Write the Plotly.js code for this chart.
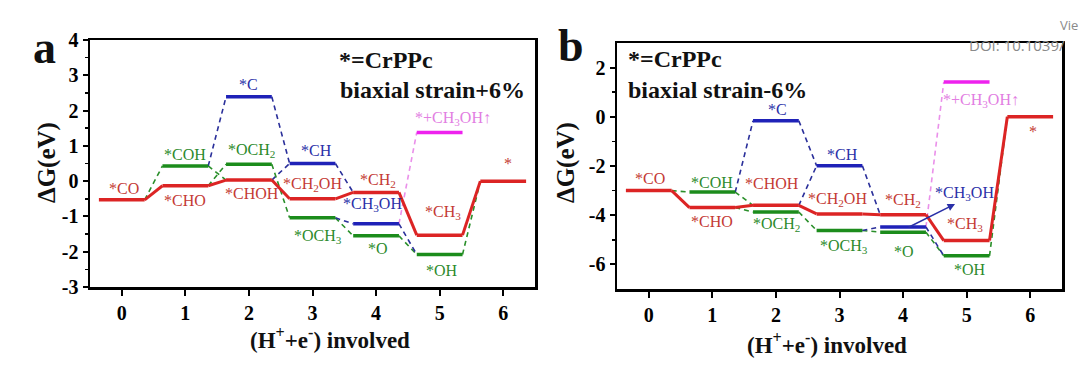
<!DOCTYPE html>
<html>
<head>
<meta charset="utf-8">
<script src="https://cdn.plot.ly/plotly-3.0.1.min.js"></script>
<style>html,body{margin:0;padding:0;background:#fff;}#chart{width:1080px;height:367px;}</style>
</head>
<body>
<div id="chart"></div>
<script>
// ---------- data ----------
const steps = [0, 1, 2, 3, 4, 5, 6];
const xTickText = ['0', '1', '2', '3', '4', '5', '6'];

// Panel a: biaxial strain +6%
const redA = [-0.53, -0.13, 0.03, -0.50, -0.32, -1.53, 0.00];
const greenStepsA = [1, 2, 3, 4, 5];
const greenA = [0.43, 0.48, -1.04, -1.55, -2.08];
const blueStepsA = [2, 3, 4];
const blueA = [2.39, 0.50, -1.21];
const magStepsA = [5];
const magA = [1.38];
const yTicksA = [-3, -2, -1, 0, 1, 2, 3, 4];
const yTickTextA = ['-3', '-2', '-1', '0', '1', '2', '3', '4'];

// Panel b: biaxial strain -6%
const redB = [-3.00, -3.69, -3.60, -3.95, -3.98, -5.03, 0.00];
const greenStepsB = [1, 2, 3, 4, 5];
const greenB = [-3.06, -3.87, -4.62, -4.69, -5.65];
const blueStepsB = [2, 3, 4];
const blueB = [-0.16, -1.99, -4.48];
const magStepsB = [5];
const magB = [1.41];
const yTicksB = [-6, -4, -2, 0, 2];
const yTickTextB = ['-6', '-4', '-2', '0', '2'];

// species labels
const redLabels = ['*CO', '*CHO', '*CHOH', '*CH<sub>2</sub>OH', '*CH<sub>2</sub>', '*CH<sub>3</sub>', '*'];
const greenLabels = ['*COH', '*OCH<sub>2</sub>', '*OCH<sub>3</sub>', '*O', '*OH'];
const blueLabels = ['*C', '*CH', '*CH<sub>3</sub>OH'];
const magLabels = ['*+CH<sub>3</sub>OH↑'];

const panelTitleA = ['*=CrPPc', 'biaxial strain+6%'];
const panelTitleB = ['*=CrPPc', 'biaxial strain-6%'];

// dashed connections: [fromSeries, fromIndex, toSeries, toIndex, colourSeries]
const links = [
  ['r', 0, 'g', 0, 'g'],
  ['g', 0, 'r', 2, 'g'],
  ['r', 1, 'g', 1, 'g'],
  ['g', 0, 'b', 0, 'b'],
  ['b', 0, 'b', 1, 'b'],
  ['r', 2, 'b', 1, 'b'],
  ['g', 1, 'g', 2, 'g'],
  ['b', 1, 'r', 4, 'b'],
  ['g', 2, 'g', 3, 'g'],
  ['g', 2, 'b', 2, 'b'],
  ['b', 2, 'm', 0, 'm'],
  ['g', 3, 'g', 4, 'g'],
  ['b', 2, 'g', 4, 'b'],
  ['g', 4, 'r', 6, 'g']
];

// ---------- style ----------
const HW = 0.36;
const barCol = {r: '#dc2424', g: '#1c8c1c', b: '#1f22b8', m: '#ee22ee'};
const dashCol = {r: '#dc2424', g: '#2a8f2a', b: '#2a2f9a', m: '#ea90ea'};
const txtCol = {r: '#c43a34', g: '#2c8a2c', b: '#2a30a8', m: '#e27ee2'};
const SERIF = '"Liberation Serif", serif';

// label pixel offsets [xshift, yshift] per panel
const offA = {
  r: [[2, 11], [0, -15], [3, -13], [0, 14], [2, 12], [3, 23], [5, 18]],
  g: [[0, 11], [3, 14], [5, -19], [2, -13], [2, -16]],
  b: [[0, 12], [4, 13], [-4, 19]],
  m: [[13, 14]]
};
const offB = {
  r: [[1, 12], [0, -14], [-4, 22], [-2, 14], [0, 14], [-2, 16], [3, -15]],
  g: [[0, 10], [1, -12], [4, -16], [1, -19], [3, -14]],
  b: [[2, 11], [3, 11], [61, 34]],
  m: [[14, -18]]
};

const traces = [];
const annotations = [];

function buildPanel(xa, ya, red, gS, gV, bS, bV, mS, mV, off) {
  const ser = {
    r: {s: steps, v: red, lab: redLabels},
    g: {s: gS, v: gV, lab: greenLabels},
    b: {s: bS, v: bV, lab: blueLabels},
    m: {s: mS, v: mV, lab: magLabels}
  };
  links.forEach(l => {
    const f = ser[l[0]], t = ser[l[2]];
    traces.push({
      x: [f.s[l[1]] + HW, t.s[l[3]] - HW],
      y: [f.v[l[1]], t.v[l[3]]],
      xaxis: xa, yaxis: ya, mode: 'lines', hoverinfo: 'skip',
      line: {color: dashCol[l[4]], width: 1.6, dash: '5px,4px'}
    });
  });
  for (let i = 0; i < steps.length - 1; i++) {
    traces.push({
      x: [steps[i] + HW, steps[i + 1] - HW],
      y: [red[i], red[i + 1]],
      xaxis: xa, yaxis: ya, mode: 'lines', hoverinfo: 'skip',
      line: {color: barCol.r, width: 3}
    });
  }
  ['g', 'b', 'm', 'r'].forEach(k => {
    const S = ser[k];
    S.s.forEach((s, i) => {
      traces.push({
        x: [s - HW, s + HW], y: [S.v[i], S.v[i]],
        xaxis: xa, yaxis: ya, mode: 'lines', hoverinfo: 'skip',
        line: {color: barCol[k], width: 3.5}
      });
      annotations.push({
        x: s, y: S.v[i], xref: xa, yref: ya, text: S.lab[i], showarrow: false,
        xanchor: 'center', yanchor: 'middle',
        xshift: off[k][i][0], yshift: off[k][i][1],
        font: {family: SERIF, size: 16, color: txtCol[k]}
      });
    });
  });
}

buildPanel('x', 'y', redA, greenStepsA, greenA, blueStepsA, blueA, magStepsA, magA, offA);
buildPanel('x2', 'y2', redB, greenStepsB, greenB, blueStepsB, blueB, magStepsB, magB, offB);

// arrow to *CH3OH label in panel b
annotations.push({
  x: blueStepsB[2], y: blueB[2], xref: 'x2', yref: 'y2', text: '',
  xshift: 52, yshift: 23, ax: -48, ay: 24, showarrow: true,
  arrowhead: 2, arrowsize: 1, arrowwidth: 1.5, arrowcolor: '#2a30a8'
});

const W = 1080, H = 367;
const px = v => v / W, py = v => 1 - v / H;
function txt(x, y, text, size, opts) {
  annotations.push(Object.assign({
    xref: 'paper', yref: 'paper', x: px(x), y: py(y), text: text, showarrow: false,
    xanchor: 'center', yanchor: 'middle',
    font: {family: SERIF, size: size, color: '#111', weight: 'bold'}
  }, opts || {}));
}
txt(337, 60, panelTitleA[0], 24, {xanchor: 'left'});
txt(338, 90, panelTitleA[1], 24, {xanchor: 'left'});
txt(626, 59, panelTitleB[0], 24, {xanchor: 'left'});
txt(626, 90, panelTitleB[1], 24, {xanchor: 'left'});
txt(44, 47, 'a', 46);
txt(571, 46, 'b', 46);
txt(47, 163, 'ΔG(eV)', 25, {textangle: -90});
txt(566, 163, 'ΔG(eV)', 25, {textangle: -90});
txt(330, 338, '(H<sup>+</sup>+e<sup>-</sup>) involved', 23);
txt(827, 343, '(H<sup>+</sup>+e<sup>-</sup>) involved', 23);
// watermark fragments in the corner
annotations.push({xref: 'paper', yref: 'paper', x: 1, y: py(25), xanchor: 'right', yanchor: 'middle', text: 'Vie', showarrow: false,
  font: {family: 'Open Sans, sans-serif', size: 13, color: '#8a8a8a'}});
annotations.push({xref: 'paper', yref: 'paper', x: px(967), y: py(45), xanchor: 'left', yanchor: 'middle', text: 'DOI: 10.1039/', showarrow: false,
  font: {family: 'Open Sans, sans-serif', size: 15, color: '#8a8a8a'}});

function minorOf(t) {
  const m = [];
  for (let i = 0; i < t.length - 1; i++) m.push((t[i] + t[i + 1]) / 2);
  return m;
}

const axBase = {
  showline: true, linecolor: '#000', linewidth: 2.5, mirror: true,
  showgrid: false, zeroline: false, ticks: 'outside', tickcolor: '#000',
  tickwidth: 2, ticklen: 6, tickmode: 'array',
  tickfont: {family: SERIF, size: 20, color: '#000', weight: 'bold'}
};
const layout = {
  width: W, height: H, margin: {l: 0, r: 0, t: 0, b: 0},
  paper_bgcolor: '#fff', plot_bgcolor: '#fff', showlegend: false,
  xaxis: Object.assign({}, axBase, {domain: [px(90), px(535)], range: [-0.5, 6.5], tickvals: steps, ticktext: xTickText, anchor: 'y'}),
  yaxis: Object.assign({}, axBase, {domain: [py(287), py(40)], range: [-3, 4], tickvals: yTicksA, ticktext: yTickTextA, anchor: 'x', ticklen: 5,
    minor: {tickvals: minorOf(yTicksA), ticks: 'outside', ticklen: 3, tickwidth: 1.5, tickcolor: '#000'}}),
  xaxis2: Object.assign({}, axBase, {domain: [px(617), px(1062)], range: [-0.5, 6.5], tickvals: steps, ticktext: xTickText, anchor: 'y2'}),
  yaxis2: Object.assign({}, axBase, {domain: [py(289), py(43)], range: [-7, 3], tickvals: yTicksB, ticktext: yTickTextB, anchor: 'x2', ticklen: 5,
    minor: {tickvals: minorOf(yTicksB), ticks: 'outside', ticklen: 3, tickwidth: 1.5, tickcolor: '#000'}}),
  annotations: annotations
};

Plotly.newPlot('chart', traces, layout, {staticPlot: true, displayModeBar: false});
</script>
</body>
</html>
